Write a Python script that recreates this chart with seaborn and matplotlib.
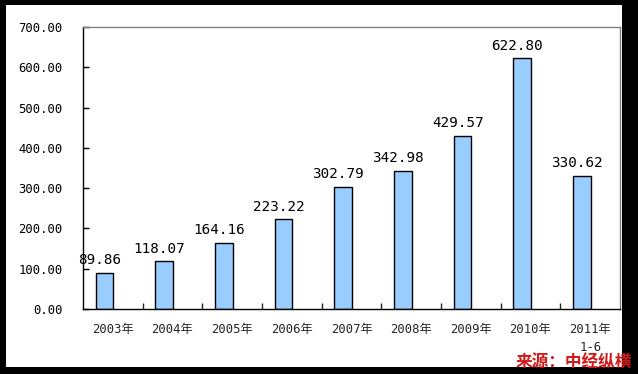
import pandas as pd
import matplotlib
matplotlib.use("Agg")
import matplotlib.pyplot as plt
import matplotlib.ticker as mtick
from matplotlib.patches import Rectangle
import seaborn as sns

years = ['2003年', '2004年', '2005年', '2006年', '2007年', '2008年', '2009年', '2010年', '2011年\n1-6']
values = [89.86, 118.07, 164.16, 223.22, 302.79, 342.98, 429.57, 622.80, 330.62]
y_ticks = [0, 100, 200, 300, 400, 500, 600, 700]
source_text = '来源：中经纵横'

sns.set_style('white')
plt.rcParams['font.family'] = ['DejaVu Sans Mono', 'Noto Sans CJK SC']

df = pd.DataFrame({'year': years, 'value': values})

fig = plt.figure(figsize=(6.38, 3.74), dpi=100, facecolor='black')
# white canvas inside the black frame
fig.patches.append(Rectangle((6 / 638, 7 / 374), 616 / 638, 362 / 374,
                             transform=fig.transFigure, facecolor='white',
                             edgecolor='none', zorder=-10))
ax = fig.add_axes([83 / 638, 65 / 374, 537 / 638, 282 / 374])
ax.set_facecolor('white')

sns.barplot(data=df, x='year', y='value', color='#99CCFF', edgecolor='black',
            linewidth=1.0, width=0.3, saturation=1, ax=ax)

shift = -0.14
for p in ax.patches:
    p.set_x(p.get_x() + shift)

for i, v in enumerate(values):
    ax.annotate(f'{v:.2f}', (i + shift - 0.08, v), xytext=(0, 4),
                textcoords='offset points', ha='center', va='bottom',
                fontsize=10.3, color='black')

ax.set_xlim(-0.5, 8.5)
ax.set_ylim(0, 700)
ax.set_yticks(y_ticks)
ax.yaxis.set_major_formatter(mtick.FormatStrFormatter('%.2f'))
ax.tick_params(axis='y', direction='in', length=4, width=1, pad=14.5,
               labelsize=8.8, colors='black', left=True)
ax.tick_params(axis='x', which='major', length=0, pad=10, labelsize=8.8)
ax.set_xticks([i + 0.5 for i in range(8)], minor=True)
ax.tick_params(axis='x', which='minor', direction='in', length=4, width=1,
               bottom=True)
for lbl in ax.get_xticklabels():
    lbl.set_linespacing(1.5)
    lbl.set_multialignment('center')
ax.set_xlabel('')
ax.set_ylabel('')

for side in ['left', 'bottom']:
    ax.spines[side].set_color('black')
    ax.spines[side].set_linewidth(1.0)
for side in ['top', 'right']:
    ax.spines[side].set_visible(True)
    ax.spines[side].set_color('#808080')
    ax.spines[side].set_linewidth(1.0)

fig.text(632 / 638, 12 / 374, source_text, ha='right', va='center',
         fontsize=12, fontweight='bold', color='#D01818',
         family=['Noto Sans CJK SC'])

fig.savefig('out.png', dpi=100, facecolor='black')
